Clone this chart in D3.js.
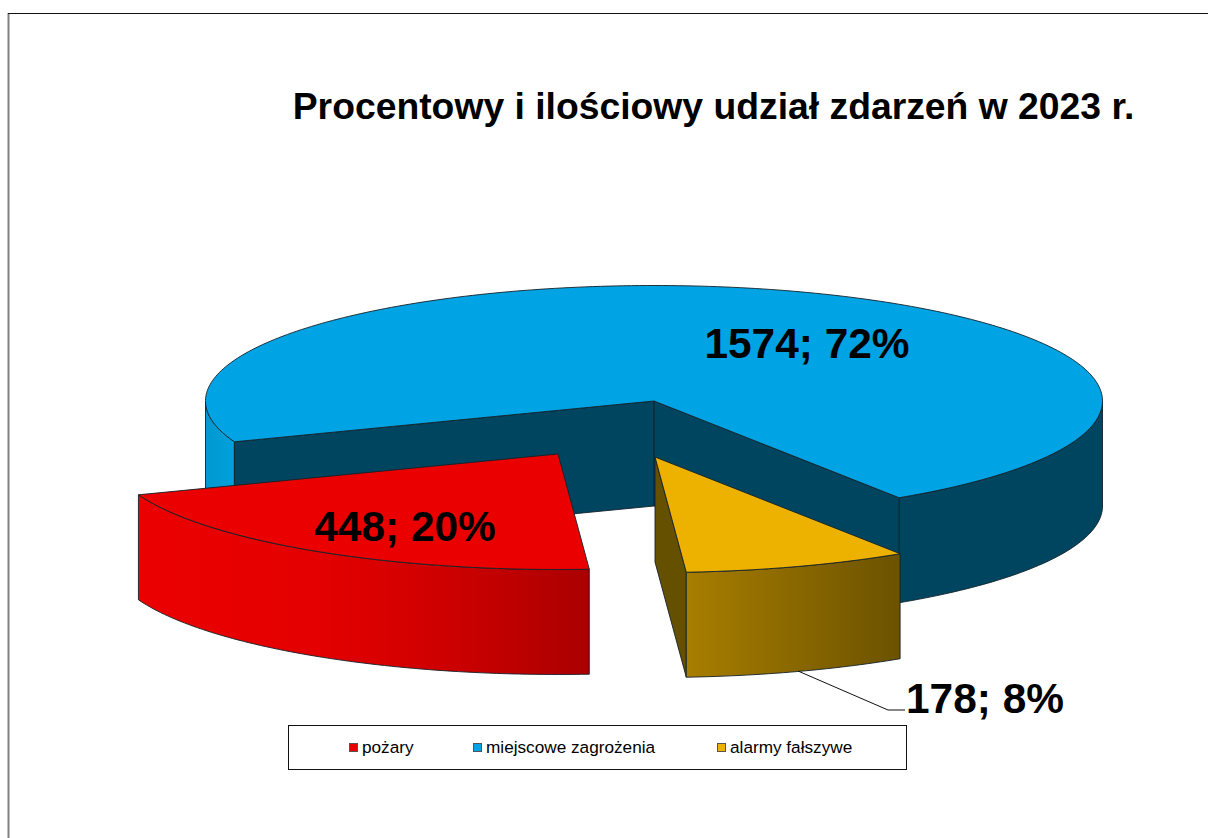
<!DOCTYPE html>
<html>
<head>
<meta charset="utf-8">
<script src="https://cdnjs.cloudflare.com/ajax/libs/d3/7.8.5/d3.min.js"></script>
<style>
html,body{margin:0;padding:0;background:#fff;overflow:hidden}
svg{display:block}
text{font-family:"Liberation Sans",Arial,sans-serif;fill:#000}
</style>
</head>
<body>
<svg id="chart" width="1208" height="838"></svg>
<script>
const titleText = "Procentowy i ilościowy udział zdarzeń w 2023 r.";
const categories = ["pożary", "miejscowe zagrożenia", "alarmy fałszywe"];
const eventCounts = [448, 1574, 178];
const percentLabels = [20, 72, 8];
const topColors = ["#eb0000", "#00a3e3", "#edb100"];

const svg = d3.select("#chart");
const W = 1208, H = 838;

svg.append("rect").attr("width", W).attr("height", H).attr("fill", "#fff");
svg.append("line").attr("x1", 8.5).attr("x2", 8.5).attr("y1", 13).attr("y2", H)
  .attr("stroke", "#808080").attr("stroke-width", 2);
svg.append("line").attr("x1", 8).attr("x2", W).attr("y1", 13.5).attr("y2", 13.5)
  .attr("stroke", "#111").attr("stroke-width", 1);

svg.append("text").attr("x", 713.5).attr("y", 119).attr("text-anchor", "middle")
  .attr("font-size", 37.3).attr("font-weight", "bold").text(titleText);

// pie geometry
const CX = 654, CY = 401, RX = 448.5, RY = 115.5, DEPTH = 105;
const toRad = Math.PI / 180;
const pie = d3.pie().sort(null)
  .startAngle(176 * toRad).endAngle((176 + 360) * toRad);
const arcs = pie(eventCounts);
const explode = [[-96, 53], [0, 0], [1, 56]];

const pt = (a, off, drop = 0) => [CX + off[0] + RX * Math.sin(a), CY + off[1] - RY * Math.cos(a) + drop];
const apex = (off, drop = 0) => [CX + off[0], CY + off[1] + drop];
const rimPts = (a0, a1, off, drop = 0) => {
  const n = Math.max(2, Math.ceil(Math.abs(a1 - a0) / toRad));
  return d3.range(n + 1).map(i => pt(a0 + (a1 - a0) * i / n, off, drop));
};
const line = d3.line().curve(d3.curveLinear);
const closed = p => line(p) + "Z";

const defs = svg.append("defs");
function grad(id, x1, x2, stops) {
  const g = defs.append("linearGradient").attr("id", id)
    .attr("gradientUnits", "userSpaceOnUse")
    .attr("x1", x1).attr("x2", x2).attr("y1", 0).attr("y2", 0);
  stops.forEach(s => g.append("stop").attr("offset", s[0]).attr("stop-color", s[1]));
}
grad("redWall", 138, 590, [[0, "#eb0000"], [0.4, "#e40000"], [0.7, "#cc0000"], [1, "#aa0000"]]);
grad("yellowWall", 687, 900, [[0, "#a87e00"], [1, "#6c5200"]]);
grad("blueWall", 205, 233, [[0, "#0098d0"], [1, "#00a0dc"]]);

const edge = "#14212a";
function face(d, fill) {
  svg.append("path").attr("d", d).attr("fill", fill)
    .attr("stroke", edge).attr("stroke-width", 0.9).attr("stroke-linejoin", "round");
}
function wall(a0, a1, off, fill) {
  const top = rimPts(a0, a1, off);
  const bot = rimPts(a0, a1, off, DEPTH).reverse();
  face(closed(top.concat(bot)), fill);
}
function radialWall(a, off, fill) {
  face(closed([apex(off), pt(a, off), pt(a, off, DEPTH), apex(off, DEPTH)]), fill);
}
function topFace(d, off, fill) {
  face(closed([apex(off)].concat(rimPts(d.startAngle, d.endAngle, off))), fill);
}

// blue slice
const b = arcs[1], bOff = explode[1];
wall(b.endAngle, 450 * toRad, bOff, "#00455f");
wall(b.startAngle, 270 * toRad, bOff, "url(#blueWall)");
radialWall(b.startAngle, bOff, "#00455f");
radialWall(b.endAngle, bOff, "#00455f");
topFace(b, bOff, topColors[1]);

// yellow slice
const y = arcs[2], yOff = explode[2];
radialWall(y.endAngle, yOff, "#655000");
wall(y.startAngle, y.endAngle, yOff, "url(#yellowWall)");
topFace(y, yOff, topColors[2]);

// red slice
const r = arcs[0], rOff = explode[0];
wall(r.startAngle, r.endAngle, rOff, "url(#redWall)");
topFace(r, rOff, topColors[0]);

// data labels
const labelPos = [[405, 541], [807, 358], [985, 713]];
categories.forEach((c, i) => {
  svg.append("text").attr("x", labelPos[i][0]).attr("y", labelPos[i][1])
    .attr("text-anchor", "middle").attr("font-size", 42.4).attr("font-weight", "bold")
    .text(`${eventCounts[i]}; ${percentLabels[i]}%`);
});
svg.append("path").attr("d", line([[798, 671], [888, 710], [905, 710]]))
  .attr("fill", "none").attr("stroke", "#111").attr("stroke-width", 1);

// legend
svg.append("rect").attr("x", 288.5).attr("y", 725.5).attr("width", 618).attr("height", 44)
  .attr("fill", "#fff").attr("stroke", "#111").attr("stroke-width", 1);
const legendX = [349, 473, 717];
categories.forEach((c, i) => {
  svg.append("rect").attr("x", legendX[i] + 0.5).attr("y", 743.5).attr("width", 8).attr("height", 8)
    .attr("fill", topColors[i]).attr("stroke", "#555").attr("stroke-width", 1);
  svg.append("text").attr("x", legendX[i] + 13).attr("y", 753)
    .attr("font-size", 17.2).text(c);
});
</script>
</body>
</html>
